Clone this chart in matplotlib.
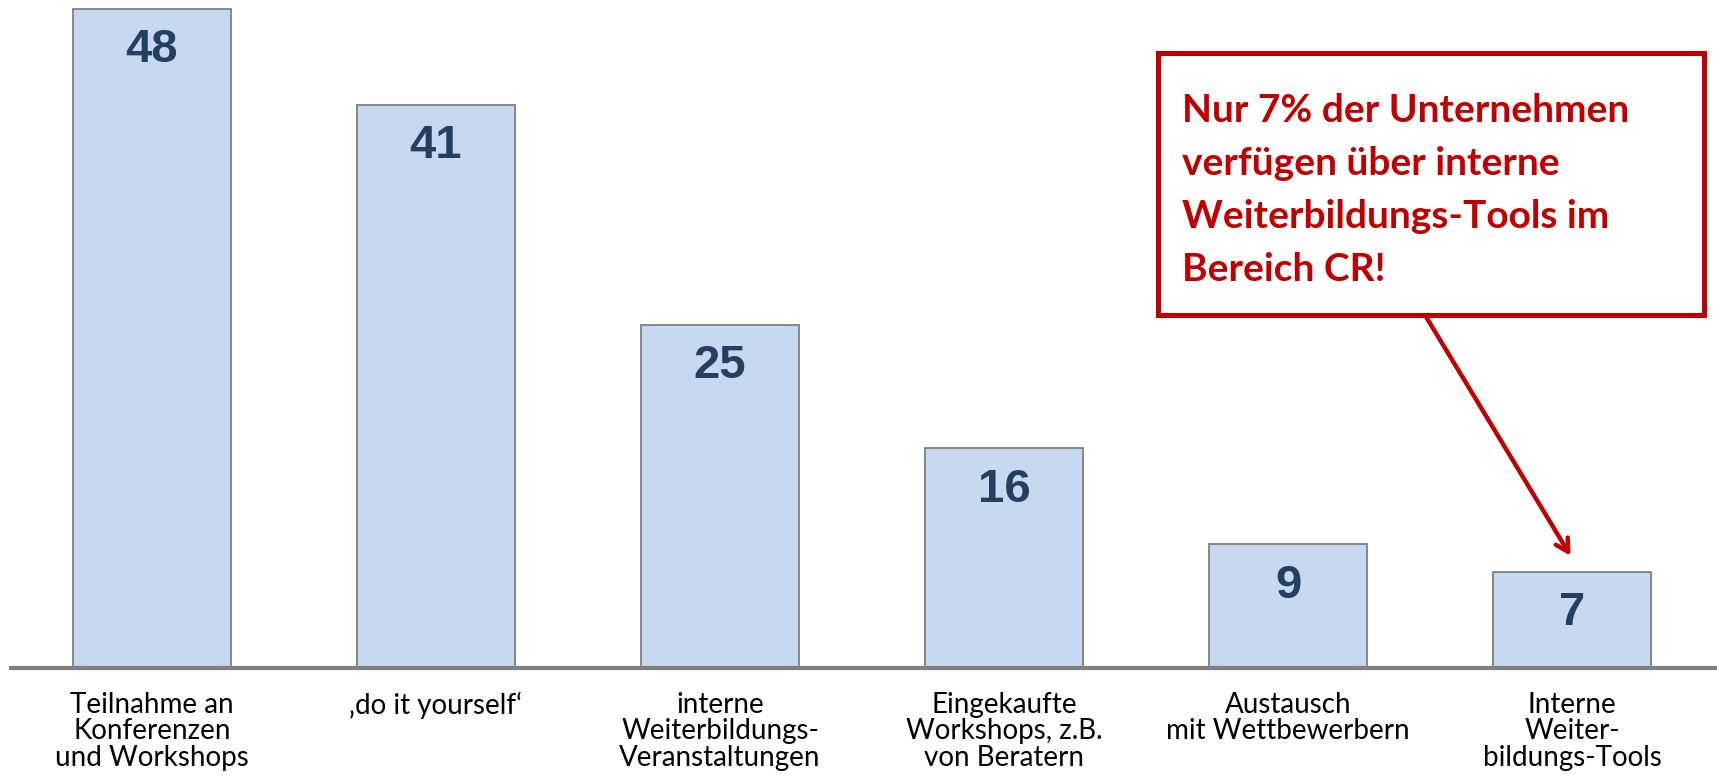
import matplotlib.pyplot as plt
from matplotlib.patches import Rectangle

# Daten
kategorien = [
    "Teilnahme an\nKonferenzen\nund Workshops",
    "\u201ado it yourself\u2018",
    "interne\nWeiterbildungs-\nVeranstaltungen",
    "Eingekaufte\nWorkshops, z.B.\nvon Beratern",
    "Austausch\nmit Wettbewerbern",
    "Interne\nWeiter-\nbildungs-Tools",
]
werte = [48, 41, 25, 16, 9, 7]
hinweis = "Nur 7% der Unternehmen\nverfügen über interne\nWeiterbildungs-Tools im\nBereich CR!"

rot = "#C00000"
W, H = 1717, 781

fig = plt.figure(figsize=(W / 100, H / 100), dpi=100)
ax = fig.add_axes([11 / W, (H - 668) / H, 1 - 11 / W, 666 / H])

x = list(range(len(werte)))
ax.bar(x, werte, width=0.556, color="#C6D9F1", edgecolor="#7F7F7F", linewidth=1.3, zorder=2)

for xi, w in zip(x, werte):
    ax.annotate(str(w), (xi, w), xytext=(0, -14), textcoords="offset points",
                ha="center", va="top", fontsize=34, fontweight="bold",
                color="#243F60", family="Liberation Sans")

ax.set_xlim(-141 / 284, (W - 152) / 284)
ax.set_ylim(0, 48.5)
ax.axhline(0, color="#808080", linewidth=3, zorder=3, clip_on=False)

for s in ax.spines.values():
    s.set_visible(False)
ax.set_yticks([])
ax.set_xticks(x)
ax.set_xticklabels(kategorien, fontsize=20, family="Lato", linespacing=1.03)
ax.tick_params(axis="x", length=0, pad=17)

# Hinweisbox
fig.patches.append(Rectangle((1158 / W, 1 - 315 / H), 546 / W, 262 / H,
                             transform=fig.transFigure, fill=False,
                             edgecolor=rot, linewidth=3.6))
fig.text(1182 / W, 1 - 190 / H, hinweis, ha="left", va="center",
         fontsize=28, fontweight="bold", color=rot, family="Lato", linespacing=1.61)

# Pfeil zur letzten Säule
ax.annotate("", xy=(x[-1], werte[-1] + 1.0), xycoords="data",
            xytext=(1425 / W, 1 - 315 / H), textcoords="figure fraction",
            arrowprops=dict(arrowstyle="->,head_length=0.9,head_width=0.5",
                            color=rot, linewidth=3.2))

plt.savefig("out.png", dpi=100)
